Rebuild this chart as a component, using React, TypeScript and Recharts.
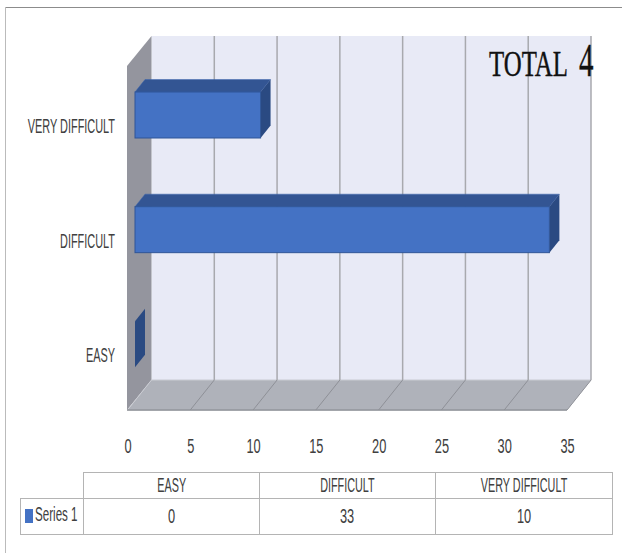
import React from 'react';
import { BarChart, Bar, XAxis, YAxis, ReferenceArea, ReferenceLine } from 'recharts';

const categories = ['EASY', 'DIFFICULT', 'VERY DIFFICULT'];
const seriesValues = [0, 33, 10];
const seriesName = 'Series 1';
const xTicks = [0, 5, 10, 15, 20, 25, 30, 35];

const chartData = categories.map((name, i) => ({ name, value: seriesValues[i] }));

const WALL_DX = 24;
const WALL_DY = -30;
const FONT = '"Liberation Sans", sans-serif';
const TEXT_COLOR = '#404040';

function pts(list: number[][]) {
  return list.map(p => p.join(',')).join(' ');
}

// the back wall, left wall and floor of the fake 3d box
function Walls({ x, y, width, height }: any) {
  const r = x + width;
  const b = y + height;
  return (
    <g>
      <polygon points={pts([[x + WALL_DX, y + WALL_DY], [r + WALL_DX, y + WALL_DY], [r + WALL_DX, b + WALL_DY], [x + WALL_DX, b + WALL_DY]])} fill="#E8EAF6" />
      <polygon points={pts([[x - 0.5, y], [x + WALL_DX, y + WALL_DY], [x + WALL_DX, b + WALL_DY], [x - 0.5, b]])} fill="#94959E" />
      <polygon points={pts([[x, b], [x + WALL_DX, b + WALL_DY], [r + WALL_DX, b + WALL_DY], [r, b]])} fill="#AFB2BA" stroke="#C9CBD2" strokeWidth={1} />
      <line x1={x - 0.5} y1={b} x2={r} y2={b} stroke="#8E9097" strokeWidth={1.5} />
    </g>
  );
}

function GridLine({ x1, y1, y2 }: any) {
  const top = Math.min(y1, y2);
  const bottom = Math.max(y1, y2);
  return (
    <g>
      <line x1={x1 + WALL_DX} y1={top + WALL_DY} x2={x1 + WALL_DX} y2={bottom + WALL_DY} stroke="#A8A9AE" strokeWidth={1.5} />
      <line x1={x1} y1={bottom} x2={x1 + WALL_DX} y2={bottom + WALL_DY} stroke="#8E9097" strokeWidth={1} />
    </g>
  );
}

// front, top and side faces of one bar
function Bar3D({ x, y, width, height }: any) {
  const left = x + 7.5;
  const right = left + width;
  const top = y - 8;
  const bottom = top + height;
  const dx = 10;
  const dy = -12.5;
  return (
    <g>
      {width > 0 && (
        <polygon points={pts([[left, top], [left + dx, top + dy], [right + dx, top + dy], [right, top]])} fill="#335593" stroke="#3A64AE" strokeWidth={0.5} />
      )}
      <polygon points={pts([[right, top], [right + dx, top + dy], [right + dx, bottom + dy], [right, bottom]])} fill="#2A4A82" />
      {width > 0 && (
        <rect x={left} y={top} width={width} height={height} fill="#4472C4" stroke="#2F5597" strokeWidth={1} />
      )}
    </g>
  );
}

function Title() {
  return (
    <g stroke="#111" strokeWidth={0.4}>
      <text transform="translate(489,76) scale(0.69,1)" fontFamily='"Liberation Serif", serif' fontSize={36} fill="#111">
        TOTAL
      </text>
      <text transform="translate(579,76) scale(0.63,1)" fontFamily='"Liberation Serif", serif' fontSize={46} fill="#111">
        4
      </text>
    </g>
  );
}

function XTick({ x, y, payload }: any) {
  return (
    <text transform={`translate(${x + 0.5},${y}) scale(0.64,1)`} y={35} textAnchor="middle" fontFamily={FONT} fontSize={20} fill={TEXT_COLOR}>
      {payload.value}
    </text>
  );
}

function YTick({ y, payload }: any) {
  return (
    <text transform={`translate(115,${y}) scale(0.52,1)`} y={9.5} textAnchor="end" fontFamily={FONT} fontSize={21} fill={TEXT_COLOR}>
      {payload.value}
    </text>
  );
}

const cellBase: React.CSSProperties = {
  position: 'absolute',
  boxSizing: 'border-box',
  display: 'flex',
  alignItems: 'center',
  justifyContent: 'center',
  fontFamily: FONT,
  fontSize: 20,
  color: TEXT_COLOR,
  borderStyle: 'solid',
  borderColor: '#B4B4B4',
  borderWidth: 0,
  background: '#fff',
};

const squish: React.CSSProperties = { display: 'inline-block', transform: 'scaleX(0.54)', whiteSpace: 'nowrap' };
const squishNum: React.CSSProperties = { display: 'inline-block', transform: 'scaleX(0.64)', whiteSpace: 'nowrap' };

const colX = [83, 259, 435, 612];

function DataTable() {
  return (
    <>
      {categories.map((name, i) => (
        <React.Fragment key={name}>
          <div style={{ ...cellBase, left: colX[i], top: 472, width: colX[i + 1] - colX[i] + 1, height: 27.5, borderWidth: 1.5 }}>
            <span style={squish}>{name}</span>
          </div>
          <div style={{ ...cellBase, left: colX[i], top: 498, width: colX[i + 1] - colX[i] + 1, height: 36.5, borderWidth: 1.5 }}>
            <span style={squishNum}>{seriesValues[i]}</span>
          </div>
        </React.Fragment>
      ))}
      <div style={{ ...cellBase, left: 20, top: 498, width: 64, height: 36.5, borderWidth: 1.5, justifyContent: 'flex-start' }}>
        <span style={{ position: 'absolute', left: 3.5, top: 9.5, width: 8, height: 14, background: '#4472C4' }} />
        <span style={{ ...squish, transform: 'scaleX(0.58)', position: 'absolute', left: 14, top: 4, transformOrigin: 'left center' }}>{seriesName}</span>
      </div>
    </>
  );
}

export default function App() {
  return (
    <div style={{ position: 'absolute', left: 0, top: 0, width: 622, height: 553, background: '#fff', overflow: 'hidden' }}>
      <div style={{ position: 'absolute', left: 5, top: 7, width: 617, height: 1, background: '#8C8C8C' }} />
      <div style={{ position: 'absolute', left: 5, top: 7, width: 1, height: 546, background: '#BBBBBB' }} />
      <div style={{ position: 'absolute', left: 0, top: 0 }}>
        <BarChart
          width={622}
          height={553}
          layout="vertical"
          data={chartData}
          margin={{ top: 66, right: 55, bottom: 0, left: 0 }}
        >
          <XAxis
            type="number"
            domain={[0, 35]}
            ticks={xTicks}
            interval={0}
            height={143}
            axisLine={false}
            tickLine={false}
            tick={<XTick />}
          />
          <YAxis
            type="category"
            dataKey="name"
            reversed
            width={127.5}
            axisLine={false}
            tickLine={false}
            interval={0}
            tick={<YTick />}
          />
          <ReferenceArea x1={0} x2={35} shape={<Walls />} zIndex={-20} />
          {xTicks.slice(1).map(t => (
            <ReferenceLine key={t} x={t} shape={<GridLine />} zIndex={-10} />
          ))}
          <Bar dataKey="value" barSize={46} shape={<Bar3D />} isAnimationActive={false} />
          <ReferenceArea x1={0} x2={35} shape={<Title />} zIndex={900} />
        </BarChart>
      </div>
      <DataTable />
    </div>
  );
}
